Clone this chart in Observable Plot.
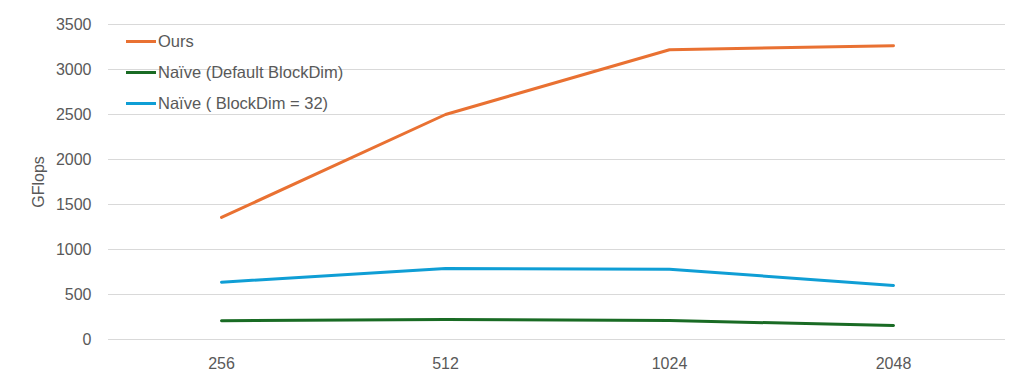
<!DOCTYPE html>
<html>
<head>
<meta charset="utf-8">
<script src="https://cdn.jsdelivr.net/npm/d3@7"></script>
<script src="https://cdn.jsdelivr.net/npm/@observablehq/plot@0.6"></script>
<style>
  html, body { margin: 0; padding: 0; background: #fff; }
  #wrap { position: relative; width: 1014px; height: 379px; font-family: "Liberation Sans", Arial, sans-serif; }
  #legend { position: absolute; left: 126px; top: 26px; font-size: 16.5px; color: #595959; }
  .item { display: flex; align-items: center; height: 31px; }
  .sw { width: 30px; height: 3px; margin-right: 2px; }
</style>
</head>
<body>
<div id="wrap"><div id="legend"></div></div>
<script>
const sizes = ["256", "512", "1024", "2048"];
const seriesNames = ["Ours", "Naïve (Default BlockDim)", "Naïve ( BlockDim = 32)"];
const seriesColors = ["#E97132", "#196B24", "#0F9ED5"];
const ours = [1356, 2500, 3220, 3263];
const naiveDefault = [208, 222, 211, 155];
const naive32 = [637, 789, 781, 600];
const yTicks = [0, 500, 1000, 1500, 2000, 2500, 3000, 3500];

const allSeries = [ours, naiveDefault, naive32];
const data = [];
allSeries.forEach((vals, si) => vals.forEach((v, i) => data.push({size: sizes[i], value: v, series: seriesNames[si]})));

const chart = Plot.plot({
  width: 1014,
  height: 379,
  marginLeft: 108,
  marginRight: 9,
  marginTop: 24,
  marginBottom: 40,
  style: {fontFamily: "Liberation Sans, Arial, sans-serif", fontSize: "16px", color: "#595959", background: "white"},
  x: {type: "point", domain: sizes, padding: 0.5, label: null},
  y: {domain: [0, 3500], ticks: yTicks, label: null},
  color: {domain: seriesNames, range: seriesColors},
  marks: [
    Plot.gridY(yTicks, {stroke: "#d9d9d9", strokeOpacity: 1, strokeWidth: 1}),
    Plot.axisY(yTicks, {tickSize: 0, tickPadding: 17, label: null, fill: "#595959", tickFormat: d => String(d), fontSize: 16}),
    Plot.axisX({tickSize: 0, tickPadding: 18, label: null, fill: "#595959", fontSize: 16}),
    Plot.text(["GFlops"], {frameAnchor: "left", dx: -70, rotate: -90, textAnchor: "middle", fill: "#595959", fontSize: 16}),
    Plot.line(data, {x: "size", y: "value", z: "series", stroke: "series", strokeWidth: 3, strokeLinecap: "round", strokeLinejoin: "round"})
  ]
});
document.getElementById("wrap").prepend(chart);

const legend = document.getElementById("legend");
seriesNames.forEach((n, i) => {
  const it = document.createElement("div");
  it.className = "item";
  const sw = document.createElement("span");
  sw.className = "sw";
  sw.style.background = seriesColors[i];
  const t = document.createElement("span");
  t.textContent = n;
  it.append(sw, t);
  legend.append(it);
});
</script>
</body>
</html>
